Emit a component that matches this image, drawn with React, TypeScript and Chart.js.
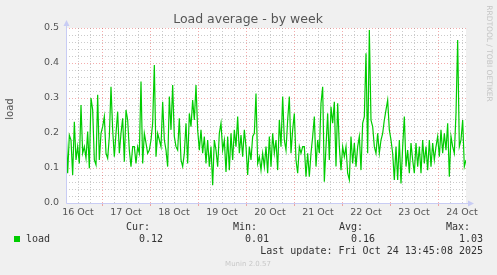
import React, { useEffect, useRef } from 'react';
import { Chart, registerables } from 'chart.js';

Chart.register(...registerables);

const W = 497;
const H = 275;

// x axis: hours since 16 Oct 00:00
const startHour = 6;
const endHour = 206;
const dayLabels = ['16 Oct', '17 Oct', '18 Oct', '19 Oct', '20 Oct', '21 Oct', '22 Oct', '23 Oct', '24 Oct'];
const yTickValues = [0, 0.1, 0.2, 0.3, 0.4, 0.5];

// load average samples (evenly spaced in time)
const loadValues = [
  0.218, 0.085, 0.194, 0.18, 0.08, 0.232, 0.123, 0.161, 0.113, 0.28, 0.142, 0.161, 0.128, 0.204, 0.099,
  0.30, 0.266, 0.123, 0.109, 0.309, 0.123, 0.199, 0.218, 0.247, 0.142, 0.128, 0.19, 0.332, 0.209, 0.132,
  0.199, 0.261, 0.142, 0.199, 0.242, 0.118, 0.266, 0.237, 0.151, 0.104, 0.161, 0.161, 0.113, 0.161, 0.142,
  0.347, 0.113, 0.199, 0.171, 0.142, 0.151, 0.18, 0.228, 0.394, 0.132, 0.199, 0.18, 0.161, 0.289, 0.18,
  0.151, 0.104, 0.304, 0.209, 0.337, 0.19, 0.161, 0.151, 0.242, 0.123, 0.104, 0.142, 0.228, 0.113, 0.256,
  0.218, 0.294, 0.237, 0.337, 0.209, 0.151, 0.209, 0.142, 0.19, 0.113, 0.18, 0.104, 0.161, 0.051, 0.18,
  0.151, 0.104, 0.199, 0.228, 0.151, 0.18, 0.089, 0.19, 0.094, 0.199, 0.123, 0.209, 0.161, 0.247, 0.142,
  0.194, 0.132, 0.209, 0.161, 0.08, 0.161, 0.123, 0.19,
  0.199, 0.313, 0.113, 0.132, 0.094, 0.142, 0.104, 0.161, 0.085, 0.19, 0.104, 0.199, 0.142, 0.18, 0.094,
  0.237, 0.161, 0.304, 0.18, 0.151, 0.237, 0.304, 0.142, 0.209, 0.256, 0.123, 0.085, 0.161, 0.142, 0.161,
  0.161, 0.075, 0.142, 0.075, 0.142, 0.19, 0.247, 0.104, 0.18, 0.142, 0.285, 0.332, 0.061, 0.161, 0.256,
  0.123, 0.275, 0.228, 0.289, 0.104, 0.285, 0.161, 0.094, 0.161, 0.132, 0.161, 0.085, 0.066, 0.19, 0.113,
  0.171, 0.104, 0.161, 0.19, 0.094, 0.228, 0.247, 0.428, 0.142, 0.494, 0.237, 0.218, 0.161, 0.142, 0.199,
  0.142, 0.18, 0.199, 0.237, 0.266, 0.294, 0.209, 0.18, 0.142, 0.066, 0.161, 0.066, 0.18, 0.056, 0.161,
  0.247, 0.104, 0.151, 0.085, 0.171, 0.123, 0.085, 0.171, 0.104, 0.161, 0.085, 0.18, 0.113, 0.161, 0.094,
  0.18, 0.104, 0.171, 0.123, 0.161, 0.19, 0.132, 0.209, 0.142, 0.199, 0.151, 0.228, 0.075, 0.19, 0.161,
  0.142, 0.256, 0.466, 0.161, 0.18, 0.237, 0.104, 0.123,
];

const seriesName = 'load';
const legendHeaders = ['Cur:', 'Min:', 'Avg:', 'Max:'];
const legendValues = ['0.12', '0.01', '0.16', '1.03'];
const lastUpdate = 'Last update: Fri Oct 24 13:45:08 2025';
const titleText = 'Load average - by week';
const yAxisTitle = 'load';
const sideText = 'RRDTOOL / TOBI OETIKER';
const footerText = 'Munin 2.0.57';

const LINE_COLOR = '#00CC00';
const SANS = "'DejaVu Sans', sans-serif";
const MONO = "'DejaVu Sans Mono', monospace";

const munPlugin = {
  id: 'muninDecor',
  beforeDraw(chart: any) {
    const { ctx, chartArea: a } = chart;
    ctx.save();
    ctx.fillStyle = '#F0F0F0';
    ctx.fillRect(0, 0, W, H);
    ctx.fillStyle = '#FFFFFF';
    ctx.fillRect(a.left, a.top, a.right - a.left, a.bottom - a.top);
    ctx.restore();
  },
  beforeDatasetsDraw(chart: any) {
    const { ctx, chartArea: a, scales } = chart;
    const xs = scales.x;
    const ys = scales.y;
    ctx.save();
    ctx.lineWidth = 1;
    ctx.setLineDash([1, 2]);
    // horizontal grid
    for (let k = 1; k <= 25; k++) {
      const v = k * 0.02;
      const y = Math.round(ys.getPixelForValue(v)) + 0.5;
      const major = k % 5 === 0;
      ctx.strokeStyle = major ? 'rgba(230,70,70,0.45)' : 'rgba(140,140,140,0.45)';
      ctx.beginPath();
      ctx.moveTo(a.left, y);
      ctx.lineTo(a.right, y);
      ctx.stroke();
    }
    // vertical grid
    for (let h = startHour + 6; h <= endHour; h += 6) {
      const x = Math.round(xs.getPixelForValue(h)) + 0.5;
      const major = h % 24 === 0;
      ctx.strokeStyle = major ? 'rgba(230,70,70,0.45)' : 'rgba(140,140,140,0.45)';
      ctx.beginPath();
      ctx.moveTo(x, a.top);
      ctx.lineTo(x, a.bottom);
      ctx.stroke();
      if (major) {
        ctx.setLineDash([]);
        ctx.beginPath();
        ctx.moveTo(x, a.bottom);
        ctx.lineTo(x, a.bottom + 3);
        ctx.stroke();
        ctx.setLineDash([1, 2]);
      }
    }
    ctx.restore();
  },
  afterDatasetsDraw(chart: any) {
    const { ctx, chartArea: a } = chart;
    ctx.save();
    const axisColor = '#C8CCF4';
    ctx.strokeStyle = axisColor;
    ctx.fillStyle = axisColor;
    ctx.lineWidth = 1;
    const lx = Math.round(a.left) + 0.5;
    const by = Math.round(a.bottom) + 0.5;
    ctx.beginPath();
    ctx.moveTo(lx, by);
    ctx.lineTo(lx, a.top - 4);
    ctx.moveTo(lx, by);
    ctx.lineTo(a.right + 4, by);
    ctx.stroke();
    // arrows
    ctx.beginPath();
    ctx.moveTo(lx - 3, a.top - 2);
    ctx.lineTo(lx + 3, a.top - 2);
    ctx.lineTo(lx, a.top - 8);
    ctx.closePath();
    ctx.fill();
    ctx.beginPath();
    ctx.moveTo(a.right + 2, by - 3);
    ctx.lineTo(a.right + 2, by + 3);
    ctx.lineTo(a.right + 8, by);
    ctx.closePath();
    ctx.fill();
    ctx.restore();
  },
  afterDraw(chart: any) {
    const { ctx, chartArea: a } = chart;
    ctx.save();
    // title
    ctx.fillStyle = '#555555';
    ctx.font = `12.5px ${SANS}`;
    ctx.textAlign = 'center';
    ctx.textBaseline = 'middle';
    ctx.fillText(titleText, 248, 20);
    // y axis title
    ctx.save();
    ctx.translate(10, 109);
    ctx.rotate(-Math.PI / 2);
    ctx.font = `10px ${SANS}`;
    ctx.fillStyle = '#555555';
    ctx.fillText(yAxisTitle, 0, 0);
    ctx.restore();
    // side text
    ctx.save();
    ctx.translate(488.5, 53.5);
    ctx.rotate(Math.PI / 2);
    ctx.font = `7.5px ${SANS}`;
    ctx.fillStyle = '#C4C4C4';
    ctx.fillText(sideText, 0, 0);
    ctx.restore();
    // legend
    ctx.fillStyle = LINE_COLOR;
    ctx.fillRect(14, 236, 6, 6);
    ctx.font = `10px ${MONO}`;
    ctx.fillStyle = '#333333';
    ctx.textAlign = 'left';
    ctx.fillText(seriesName, 26, 239);
    const headerRight = [150, 257, 363, 470];
    const valueRight = [163, 269, 375, 483];
    ctx.textAlign = 'right';
    legendHeaders.forEach((t, i) => ctx.fillText(t, headerRight[i], 227.5));
    legendValues.forEach((t, i) => ctx.fillText(t, valueRight[i], 239));
    ctx.fillText(lastUpdate, 483, 251.5);
    // footer
    ctx.textAlign = 'center';
    ctx.font = `7px ${SANS}`;
    ctx.fillStyle = '#C8C8C8';
    ctx.fillText(footerText, 248, 264);
    ctx.restore();
  },
};

export default function App() {
  const ref = useRef<HTMLCanvasElement | null>(null);

  useEffect(() => {
    if (!ref.current) return;
    const n = loadValues.length;
    const points = loadValues.map((v, i) => ({
      x: startHour + (i * (endHour - startHour)) / (n - 1),
      y: v,
    }));
    const chart = new Chart(ref.current, {
      type: 'line',
      data: {
        datasets: [
          {
            label: seriesName,
            data: points,
            borderColor: LINE_COLOR,
            borderWidth: 1.2,
            pointRadius: 0,
            tension: 0,
            fill: false,
          },
        ],
      },
      options: {
        responsive: false,
        animation: false,
        events: [],
        layout: { padding: { left: 0, right: W - 466, top: 28, bottom: 0 } },
        plugins: {
          legend: { display: false },
          title: { display: false },
          tooltip: { enabled: false },
        },
        scales: {
          x: {
            type: 'linear',
            min: startHour,
            max: endHour,
            grid: { display: false, drawTicks: false },
            border: { display: false },
            afterBuildTicks: (axis: any) => {
              axis.ticks = dayLabels.map((_, i) => ({ value: 12 + 24 * i }));
            },
            ticks: {
              autoSkip: false,
              maxRotation: 0,
              padding: 4,
              color: '#555555',
              font: { family: SANS, size: 9.5 },
              callback: (_v: any, i: number) => dayLabels[i],
            },
            afterFit: (scale: any) => {
              scale.height = 72;
            },
          },
          y: {
            type: 'linear',
            min: 0,
            max: 0.5,
            grid: { display: false, drawTicks: false },
            border: { display: false },
            afterBuildTicks: (axis: any) => {
              axis.ticks = yTickValues.map((v) => ({ value: v }));
            },
            ticks: {
              padding: 7,
              color: '#555555',
              font: { family: SANS, size: 9.5 },
              callback: (v: any) => Number(v).toFixed(1),
            },
            afterFit: (scale: any) => {
              scale.width = 66;
            },
          },
        },
      },
      plugins: [munPlugin],
    });
    return () => chart.destroy();
  }, []);

  return (
    <div style={{ position: 'fixed', left: 0, top: 0, width: W, height: H, background: '#F0F0F0' }}>
      <canvas ref={ref} width={W} height={H} style={{ display: 'block', width: W, height: H }} />
    </div>
  );
}
